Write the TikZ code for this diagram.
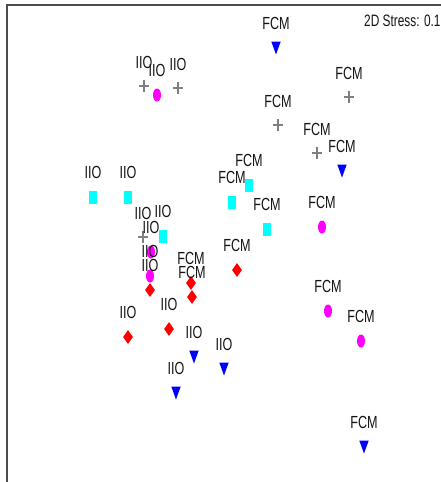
\documentclass[tikz,border=0pt]{standalone}
\usepackage{fontspec}
\setmainfont{Liberation Sans}
\newfontfamily\plotfont[FakeStretch=0.72]{Liberation Sans}
\usetikzlibrary{shapes.geometric}
\definecolor{ptblue}{RGB}{0,0,255}
\definecolor{ptcyan}{RGB}{0,255,255}
\definecolor{ptmagenta}{RGB}{255,0,255}
\definecolor{ptred}{RGB}{255,0,0}
\definecolor{ptgray}{RGB}{128,128,128}
\begin{document}
\begin{tikzpicture}[x=1pt,y=-1pt,
  every label/.style={font=\plotfont\fontsize{17.5}{17.5}\selectfont,text=black!92,inner sep=0pt,label distance=11pt},
  mark node/.style={inner sep=0pt,draw=none},
  tri/.style={mark node,minimum width=9.5pt,minimum height=13pt,
    path picture={\fill[ptblue] (path picture bounding box.north west) -- (path picture bounding box.north east) -- (path picture bounding box.south) -- cycle;}},
  crs/.style={mark node,minimum width=10pt,minimum height=12pt,
    path picture={\draw[ptgray,line width=1.6pt] (path picture bounding box.north) -- (path picture bounding box.south)
      (path picture bounding box.west) -- (path picture bounding box.east);}},
  sq/.style={mark node,rectangle,fill=ptcyan,minimum width=8pt,minimum height=13pt},
  dot/.style={mark node,ellipse,fill=ptmagenta,minimum width=8pt,minimum height=13pt},
  dia/.style={mark node,diamond,fill=ptred,minimum width=10pt,minimum height=14pt},
  fcm/.style={label={90:FCM}},
  iio/.style={label={90:IIO}}]

  \useasboundingbox (0,0) rectangle (441,482);
  \draw[black!70,line width=2pt] (7,482) -- (7,5) -- (441,5);
  \node[anchor=west,inner sep=0pt,font=\plotfont\fontsize{16.5}{16.5}\selectfont,text=black!92] (stress) at (364,21) {2D Stress: 0.17};

  % FCM
  \node[tri,fcm] (0) at (276,48){};
  \node[crs,fcm] (1) at (349,97){};
  \node[crs,fcm] (2) at (278,125){};
  \node[crs,fcm] (3) at (317,153){};
  \node[tri,fcm] (4) at (342,171){};
  \node[sq,fcm] (5) at (249,185){};
  \node[sq,fcm] (6) at (232,202){};
  \node[sq,fcm] (7) at (267,229){};
  \node[dot,fcm] (8) at (322,227){};
  \node[dia,fcm] (9) at (237,270){};
  \node[dia,fcm] (10) at (191,283){};
  \node[dia,fcm] (11) at (192,297){};
  \node[dot,fcm] (12) at (328,311){};
  \node[dot,fcm] (13) at (361,341){};
  \node[tri,fcm] (14) at (364,447){};

  % IIO
  \node[crs,iio] (15) at (144,86){};
  \node[dot,iio] (16) at (157,95){};
  \node[crs,iio] (17) at (178,88){};
  \node[sq,iio] (18) at (93,197){};
  \node[sq,iio] (19) at (128,197){};
  \node[crs,iio] (20) at (143,237){};
  \node[sq,iio] (21) at (163,236){};
  \node[dot,iio] (22) at (151,252){};
  \node[dot,iio] (23) at (150,276){};
  \node[dia,iio] (24) at (150,290){};
  \node[dia,iio] (25) at (169,329){};
  \node[dia,iio] (26) at (128,337){};
  \node[tri,iio] (27) at (194,357){};
  \node[tri,iio] (28) at (224,369){};
  \node[tri,iio] (29) at (176,393){};
\end{tikzpicture}
\end{document}
